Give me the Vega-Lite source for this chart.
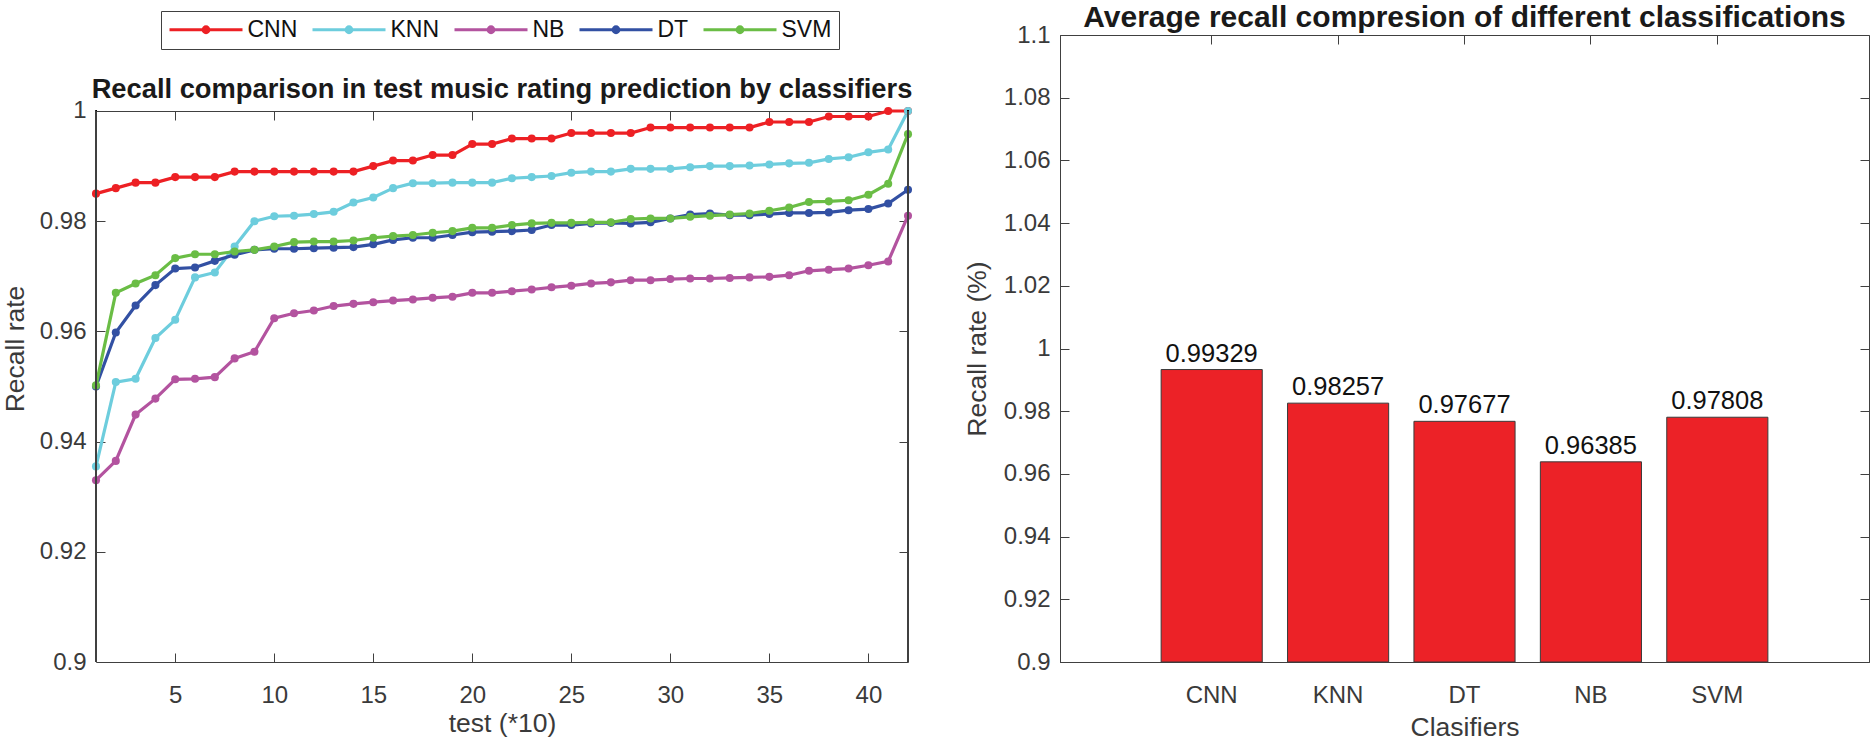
{
  "$schema": "https://vega.github.io/schema/vega-lite/v6.json",
  "background": "white",
  "padding": {"left": 2, "top": 2, "right": 0, "bottom": 0},
  "spacing": 48,
  "config": {
    "font": "Liberation Sans",
    "view": {"stroke": "#404040", "strokeWidth": 1},
    "axis": {
      "labelFont": "Liberation Sans", "labelFontSize": 24, "labelColor": "#3a3a3a",
      "titleFont": "Liberation Sans", "titleFontSize": 26.5, "titleFontWeight": "normal", "titleColor": "#3a3a3a",
      "domainColor": "#404040", "domainWidth": 1, "tickColor": "#404040", "tickWidth": 1, "tickSize": -9, "grid": false
    },
    "title": {"font": "Liberation Sans", "fontSize": 26.5, "fontWeight": "bold", "color": "#1a1a1a"}
  },
  "hconcat": [
    {
      "width": 812,
      "height": 627,
      "view": {"stroke": null},
      "title": {"text": "Recall comparison in test music rating prediction by classifiers", "offset": -68, "anchor": "middle", "fontSize": 27.3},
      "data": {"values": [
        {"s":"CNN","n":1,"v":0.985},{"s":"CNN","n":2,"v":0.986},{"s":"CNN","n":3,"v":0.987},{"s":"CNN","n":4,"v":0.987},{"s":"CNN","n":5,"v":0.988},{"s":"CNN","n":6,"v":0.988},{"s":"CNN","n":7,"v":0.988},{"s":"CNN","n":8,"v":0.989},{"s":"CNN","n":9,"v":0.989},{"s":"CNN","n":10,"v":0.989},{"s":"CNN","n":11,"v":0.989},{"s":"CNN","n":12,"v":0.989},{"s":"CNN","n":13,"v":0.989},{"s":"CNN","n":14,"v":0.989},{"s":"CNN","n":15,"v":0.990},{"s":"CNN","n":16,"v":0.991},{"s":"CNN","n":17,"v":0.991},{"s":"CNN","n":18,"v":0.992},{"s":"CNN","n":19,"v":0.992},{"s":"CNN","n":20,"v":0.994},{"s":"CNN","n":21,"v":0.994},{"s":"CNN","n":22,"v":0.995},{"s":"CNN","n":23,"v":0.995},{"s":"CNN","n":24,"v":0.995},{"s":"CNN","n":25,"v":0.996},{"s":"CNN","n":26,"v":0.996},{"s":"CNN","n":27,"v":0.996},{"s":"CNN","n":28,"v":0.996},{"s":"CNN","n":29,"v":0.997},{"s":"CNN","n":30,"v":0.997},{"s":"CNN","n":31,"v":0.997},{"s":"CNN","n":32,"v":0.997},{"s":"CNN","n":33,"v":0.997},{"s":"CNN","n":34,"v":0.997},{"s":"CNN","n":35,"v":0.998},{"s":"CNN","n":36,"v":0.998},{"s":"CNN","n":37,"v":0.998},{"s":"CNN","n":38,"v":0.999},{"s":"CNN","n":39,"v":0.999},{"s":"CNN","n":40,"v":0.999},{"s":"CNN","n":41,"v":1.0},{"s":"CNN","n":42,"v":1.0},
        {"s":"KNN","n":1,"v":0.9355},{"s":"KNN","n":2,"v":0.9508},{"s":"KNN","n":3,"v":0.9514},{"s":"KNN","n":4,"v":0.9588},{"s":"KNN","n":5,"v":0.9621},{"s":"KNN","n":6,"v":0.9698},{"s":"KNN","n":7,"v":0.9707},{"s":"KNN","n":8,"v":0.9754},{"s":"KNN","n":9,"v":0.98},{"s":"KNN","n":10,"v":0.9809},{"s":"KNN","n":11,"v":0.981},{"s":"KNN","n":12,"v":0.9813},{"s":"KNN","n":13,"v":0.9817},{"s":"KNN","n":14,"v":0.9834},{"s":"KNN","n":15,"v":0.9843},{"s":"KNN","n":16,"v":0.986},{"s":"KNN","n":17,"v":0.9869},{"s":"KNN","n":18,"v":0.9869},{"s":"KNN","n":19,"v":0.987},{"s":"KNN","n":20,"v":0.987},{"s":"KNN","n":21,"v":0.987},{"s":"KNN","n":22,"v":0.9878},{"s":"KNN","n":23,"v":0.988},{"s":"KNN","n":24,"v":0.9882},{"s":"KNN","n":25,"v":0.9888},{"s":"KNN","n":26,"v":0.989},{"s":"KNN","n":27,"v":0.989},{"s":"KNN","n":28,"v":0.9895},{"s":"KNN","n":29,"v":0.9895},{"s":"KNN","n":30,"v":0.9895},{"s":"KNN","n":31,"v":0.9898},{"s":"KNN","n":32,"v":0.99},{"s":"KNN","n":33,"v":0.99},{"s":"KNN","n":34,"v":0.9901},{"s":"KNN","n":35,"v":0.9903},{"s":"KNN","n":36,"v":0.9905},{"s":"KNN","n":37,"v":0.9906},{"s":"KNN","n":38,"v":0.9913},{"s":"KNN","n":39,"v":0.9916},{"s":"KNN","n":40,"v":0.9925},{"s":"KNN","n":41,"v":0.993},{"s":"KNN","n":42,"v":1.0},
        {"s":"NB","n":1,"v":0.933},{"s":"NB","n":2,"v":0.9365},{"s":"NB","n":3,"v":0.9449},{"s":"NB","n":4,"v":0.9478},{"s":"NB","n":5,"v":0.9513},{"s":"NB","n":6,"v":0.9514},{"s":"NB","n":7,"v":0.9517},{"s":"NB","n":8,"v":0.9551},{"s":"NB","n":9,"v":0.9563},{"s":"NB","n":10,"v":0.9624},{"s":"NB","n":11,"v":0.9633},{"s":"NB","n":12,"v":0.9638},{"s":"NB","n":13,"v":0.9646},{"s":"NB","n":14,"v":0.965},{"s":"NB","n":15,"v":0.9653},{"s":"NB","n":16,"v":0.9656},{"s":"NB","n":17,"v":0.9658},{"s":"NB","n":18,"v":0.9661},{"s":"NB","n":19,"v":0.9663},{"s":"NB","n":20,"v":0.967},{"s":"NB","n":21,"v":0.967},{"s":"NB","n":22,"v":0.9673},{"s":"NB","n":23,"v":0.9676},{"s":"NB","n":24,"v":0.968},{"s":"NB","n":25,"v":0.9683},{"s":"NB","n":26,"v":0.9687},{"s":"NB","n":27,"v":0.9689},{"s":"NB","n":28,"v":0.9693},{"s":"NB","n":29,"v":0.9693},{"s":"NB","n":30,"v":0.9695},{"s":"NB","n":31,"v":0.9696},{"s":"NB","n":32,"v":0.9696},{"s":"NB","n":33,"v":0.9697},{"s":"NB","n":34,"v":0.9698},{"s":"NB","n":35,"v":0.9699},{"s":"NB","n":36,"v":0.9702},{"s":"NB","n":37,"v":0.971},{"s":"NB","n":38,"v":0.9712},{"s":"NB","n":39,"v":0.9714},{"s":"NB","n":40,"v":0.972},{"s":"NB","n":41,"v":0.9727},{"s":"NB","n":42,"v":0.981},
        {"s":"DT","n":1,"v":0.95},{"s":"DT","n":2,"v":0.9598},{"s":"DT","n":3,"v":0.9647},{"s":"DT","n":4,"v":0.9684},{"s":"DT","n":5,"v":0.9714},{"s":"DT","n":6,"v":0.9716},{"s":"DT","n":7,"v":0.9728},{"s":"DT","n":8,"v":0.9739},{"s":"DT","n":9,"v":0.9748},{"s":"DT","n":10,"v":0.975},{"s":"DT","n":11,"v":0.975},{"s":"DT","n":12,"v":0.9751},{"s":"DT","n":13,"v":0.9752},{"s":"DT","n":14,"v":0.9753},{"s":"DT","n":15,"v":0.9758},{"s":"DT","n":16,"v":0.9766},{"s":"DT","n":17,"v":0.977},{"s":"DT","n":18,"v":0.977},{"s":"DT","n":19,"v":0.9775},{"s":"DT","n":20,"v":0.978},{"s":"DT","n":21,"v":0.9781},{"s":"DT","n":22,"v":0.9782},{"s":"DT","n":23,"v":0.9784},{"s":"DT","n":24,"v":0.9793},{"s":"DT","n":25,"v":0.9793},{"s":"DT","n":26,"v":0.9796},{"s":"DT","n":27,"v":0.9797},{"s":"DT","n":28,"v":0.9796},{"s":"DT","n":29,"v":0.9798},{"s":"DT","n":30,"v":0.9805},{"s":"DT","n":31,"v":0.9812},{"s":"DT","n":32,"v":0.9814},{"s":"DT","n":33,"v":0.9811},{"s":"DT","n":34,"v":0.9811},{"s":"DT","n":35,"v":0.9813},{"s":"DT","n":36,"v":0.9815},{"s":"DT","n":37,"v":0.9815},{"s":"DT","n":38,"v":0.9816},{"s":"DT","n":39,"v":0.982},{"s":"DT","n":40,"v":0.9822},{"s":"DT","n":41,"v":0.9832},{"s":"DT","n":42,"v":0.9857},
        {"s":"SVM","n":1,"v":0.9502},{"s":"SVM","n":2,"v":0.967},{"s":"SVM","n":3,"v":0.9687},{"s":"SVM","n":4,"v":0.9702},{"s":"SVM","n":5,"v":0.9733},{"s":"SVM","n":6,"v":0.974},{"s":"SVM","n":7,"v":0.974},{"s":"SVM","n":8,"v":0.9745},{"s":"SVM","n":9,"v":0.9748},{"s":"SVM","n":10,"v":0.9754},{"s":"SVM","n":11,"v":0.9762},{"s":"SVM","n":12,"v":0.9763},{"s":"SVM","n":13,"v":0.9763},{"s":"SVM","n":14,"v":0.9765},{"s":"SVM","n":15,"v":0.977},{"s":"SVM","n":16,"v":0.9773},{"s":"SVM","n":17,"v":0.9775},{"s":"SVM","n":18,"v":0.9779},{"s":"SVM","n":19,"v":0.9782},{"s":"SVM","n":20,"v":0.9788},{"s":"SVM","n":21,"v":0.9788},{"s":"SVM","n":22,"v":0.9793},{"s":"SVM","n":23,"v":0.9796},{"s":"SVM","n":24,"v":0.9797},{"s":"SVM","n":25,"v":0.9797},{"s":"SVM","n":26,"v":0.9798},{"s":"SVM","n":27,"v":0.9798},{"s":"SVM","n":28,"v":0.9804},{"s":"SVM","n":29,"v":0.9805},{"s":"SVM","n":30,"v":0.9805},{"s":"SVM","n":31,"v":0.9808},{"s":"SVM","n":32,"v":0.981},{"s":"SVM","n":33,"v":0.9812},{"s":"SVM","n":34,"v":0.9814},{"s":"SVM","n":35,"v":0.9819},{"s":"SVM","n":36,"v":0.9825},{"s":"SVM","n":37,"v":0.9835},{"s":"SVM","n":38,"v":0.9836},{"s":"SVM","n":39,"v":0.9838},{"s":"SVM","n":40,"v":0.9848},{"s":"SVM","n":41,"v":0.9868},{"s":"SVM","n":42,"v":0.9958}
      ]},
      "layer": [
        {
          "mark": {"type": "line", "strokeWidth": 3.2, "point": {"filled": true, "size": 65, "opacity": 1}},
          "encoding": {
            "x": {"field": "n", "type": "quantitative", "scale": {"domain": [1, 42], "nice": false, "zero": false},
                  "axis": {"values": [5,10,15,20,25,30,35,40], "title": "test (*10)", "labelPadding": 30, "titlePadding": 3}},
            "y": {"field": "v", "type": "quantitative", "scale": {"domain": [0.9, 1.013793], "nice": false, "zero": false},
                  "axis": {"values": [0.9,0.92,0.94,0.96,0.98,1], "labelExpr": "format(datum.value, '.2~f')", "domain": false, "title": "Recall rate", "labelPadding": 19, "titlePadding": 10}},
            "color": {"field": "s", "type": "nominal",
              "scale": {"domain": ["CNN","KNN","NB","DT","SVM"], "range": ["#ED2024","#6DCDDD","#B3539F","#3250A3","#6ABD45"]},
              "legend": {"orient": "none", "legendX": 65, "legendY": -24, "direction": "horizontal", "title": null,
                "strokeColor": "#404040", "fillColor": "white", "padding": 7,
                "labelFont": "Liberation Sans", "labelFontSize": 23, "labelColor": "#111111",
                "symbolType": "M-3.65,0L3.65,0M-0.3,0A0.3,0.3,0,1,1,0.3,0A0.3,0.3,0,1,1,-0.3,0Z",
                "symbolSize": 400, "symbolStrokeWidth": 2.8, "symbolOffset": 26.5, "labelOffset": 30, "columnPadding": 8}}
          }
        },
        {
          "mark": {"type": "rule", "color": "#404040", "strokeWidth": 1},
          "encoding": {"x": {"datum": 1, "type": "quantitative", "axis": null}, "y": {"datum": 0.9, "type": "quantitative", "axis": null}, "y2": {"datum": 1}}
        },
        {
          "mark": {"type": "rule", "color": "#404040", "strokeWidth": 1},
          "encoding": {"x": {"datum": 42, "type": "quantitative", "axis": null}, "y": {"datum": 0.9, "type": "quantitative", "axis": null}, "y2": {"datum": 1}}
        },
        {
          "mark": {"type": "point", "opacity": 0},
          "encoding": {
            "x": {"datum": 1, "type": "quantitative", "axis": {"orient": "top", "offset": -76, "labels": false, "title": null, "values": [5,10,15,20,25,30,35,40]}},
            "y": {"datum": 0.9, "type": "quantitative", "axis": {"orient": "right", "labels": false, "title": null, "domain": false, "values": [0.9,0.92,0.94,0.96,0.98,1]}}
          }
        }
      ],
      "resolve": {"axis": {"x": "independent", "y": "independent"}}
    },
    {
      "width": 809,
      "height": 627,
      "title": {"text": "Average recall compresion of different classifications", "offset": -10, "anchor": "middle", "fontSize": 30},
      "data": {"values": [
        {"c": "CNN", "v": 0.99329},
        {"c": "KNN", "v": 0.98257},
        {"c": "DT", "v": 0.97677},
        {"c": "NB", "v": 0.96385},
        {"c": "SVM", "v": 0.97808}
      ]},
      "layer": [
        {
          "mark": {"type": "bar", "fill": "#EC2227", "stroke": "#3a3a3a", "strokeWidth": 1},
          "encoding": {
            "x": {"field": "c", "type": "nominal", "sort": null, "scale": {"paddingInner": 0.2, "paddingOuter": 0.8},
                  "axis": {"labelAngle": 0, "title": "Clasifiers", "ticks": false, "labelPadding": 21, "titlePadding": 7}},
            "y": {"field": "v", "type": "quantitative", "scale": {"domain": [0.9, 1.1], "nice": false, "zero": false},
                  "axis": {"values": [0.9,0.92,0.94,0.96,0.98,1,1.02,1.04,1.06,1.08,1.1], "labelExpr": "format(datum.value, '.2~f')", "title": "Recall rate (%)", "labelPadding": 19, "titlePadding": 12}},
            "y2": {"datum": 0.9}
          }
        },
        {
          "mark": {"type": "text", "baseline": "bottom", "dy": -3, "fontSize": 25.5, "font": "Liberation Sans", "color": "#111111"},
          "encoding": {
            "x": {"field": "c", "type": "nominal", "sort": null, "axis": null},
            "y": {"field": "v", "type": "quantitative", "axis": null},
            "text": {"field": "v", "type": "quantitative", "format": ".5f"}
          }
        },
        {
          "mark": {"type": "point", "opacity": 0},
          "encoding": {
            "x": {"field": "c", "type": "nominal", "sort": null, "axis": {"orient": "top", "labels": false, "title": null, "domain": false}},
            "y": {"field": "v", "type": "quantitative", "axis": {"orient": "right", "labels": false, "title": null, "domain": false, "values": [0.9,0.92,0.94,0.96,0.98,1,1.02,1.04,1.06,1.08,1.1]}}
          }
        }
      ],
      "resolve": {"axis": {"x": "independent", "y": "independent"}}
    }
  ]
}
